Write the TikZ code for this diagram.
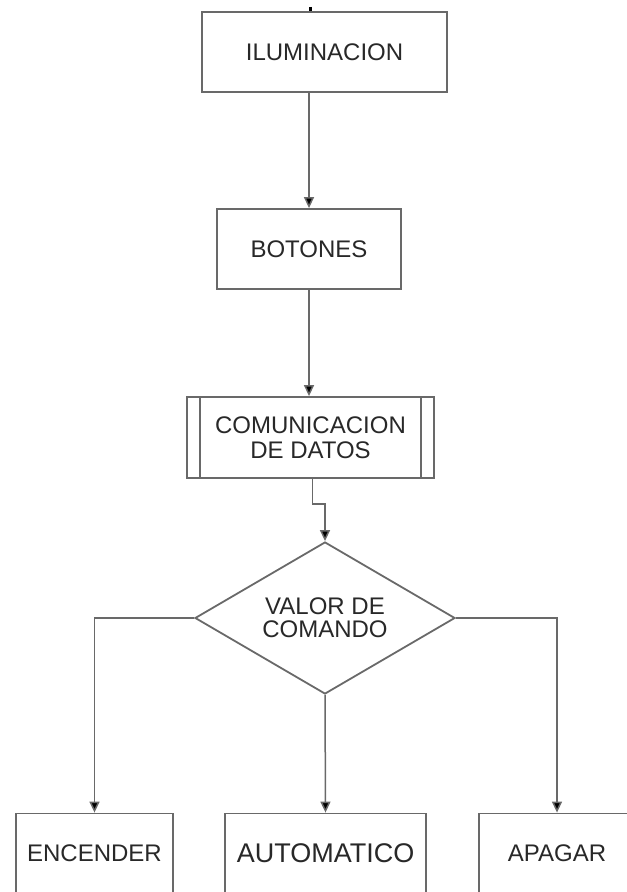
\documentclass[tikz,border=0pt]{standalone}
\usepackage{fontspec}
\setmainfont{Liberation Sans}
\usepackage{tikz}
\usetikzlibrary{arrows.meta, shapes.geometric, positioning}
\definecolor{edge}{RGB}{105,105,105}
\definecolor{ink}{RGB}{40,40,40}

\begin{document}
\begin{tikzpicture}[
    x=0.5pt, y=-0.5pt,
    font=\fontsize{12}{12.5}\selectfont,
    box/.style={rectangle, draw=edge, line width=0.9pt, text=ink,
                inner sep=0pt, minimum height=40pt, align=center},
    bar/.style={draw=edge, line width=0.9pt},
    dec/.style={diamond, draw=edge, line width=0.9pt, text=ink, inner sep=0pt,
                minimum width=130pt, minimum height=76pt, aspect=1.7, align=center,
                font=\fontsize{12}{11.5}\selectfont},
    arr/.style={-{Triangle[length=5.5pt, width=5pt, fill=black]}, draw=edge, line width=0.75pt}
  ]
    \useasboundingbox (0,0) rectangle (626,892);

    % main column
    \node[box, minimum width=122.5pt] (ilum) at (324.5,52) {ILUMINACION};
    \node[box, minimum width=92pt] (botones) at (309,249) {BOTONES};
    \node[box, minimum width=123.5pt, minimum height=40.5pt] (comm) at (310.5,437.5)
         {COMUNICACION\\DE DATOS};
    \draw[bar] ([xshift=7pt]comm.north west) -- ([xshift=7pt]comm.south west);
    \draw[bar] ([xshift=-7pt]comm.north east) -- ([xshift=-7pt]comm.south east);
    \node[dec] (cmd) at (325,618) {VALOR DE\\COMANDO};

    % outcomes
    \node[box, minimum width=78.5pt] (enc) at (94.5,853.5) {ENCENDER};
    \node[box, minimum width=100.5pt, font=\fontsize{13.5}{15}\selectfont] (auto) at (325.5,853.5)
         {AUTOMATICO};
    \node[box, minimum width=78pt] (apagar) at (557,853.5) {APAGAR};

    % connectors
    \coordinate (entry) at (310,7);
    \draw[black, line width=1.5pt] (entry) -- (entry |- ilum.north);
    \draw[arr] (botones.north |- ilum.south) -- (botones.north);
    \draw[arr] (botones.south) -- (botones.south |- comm.north);
    \draw[arr] ([xshift=1pt]comm.south) -- ++(0,25) -| (cmd.north);
    \draw[arr] (cmd.west) -| (enc.north);
    \draw[arr] (cmd.south) -- (auto.north);
    \draw[arr] (cmd.east) -| (apagar.north);
  \end{tikzpicture}
\end{document}
